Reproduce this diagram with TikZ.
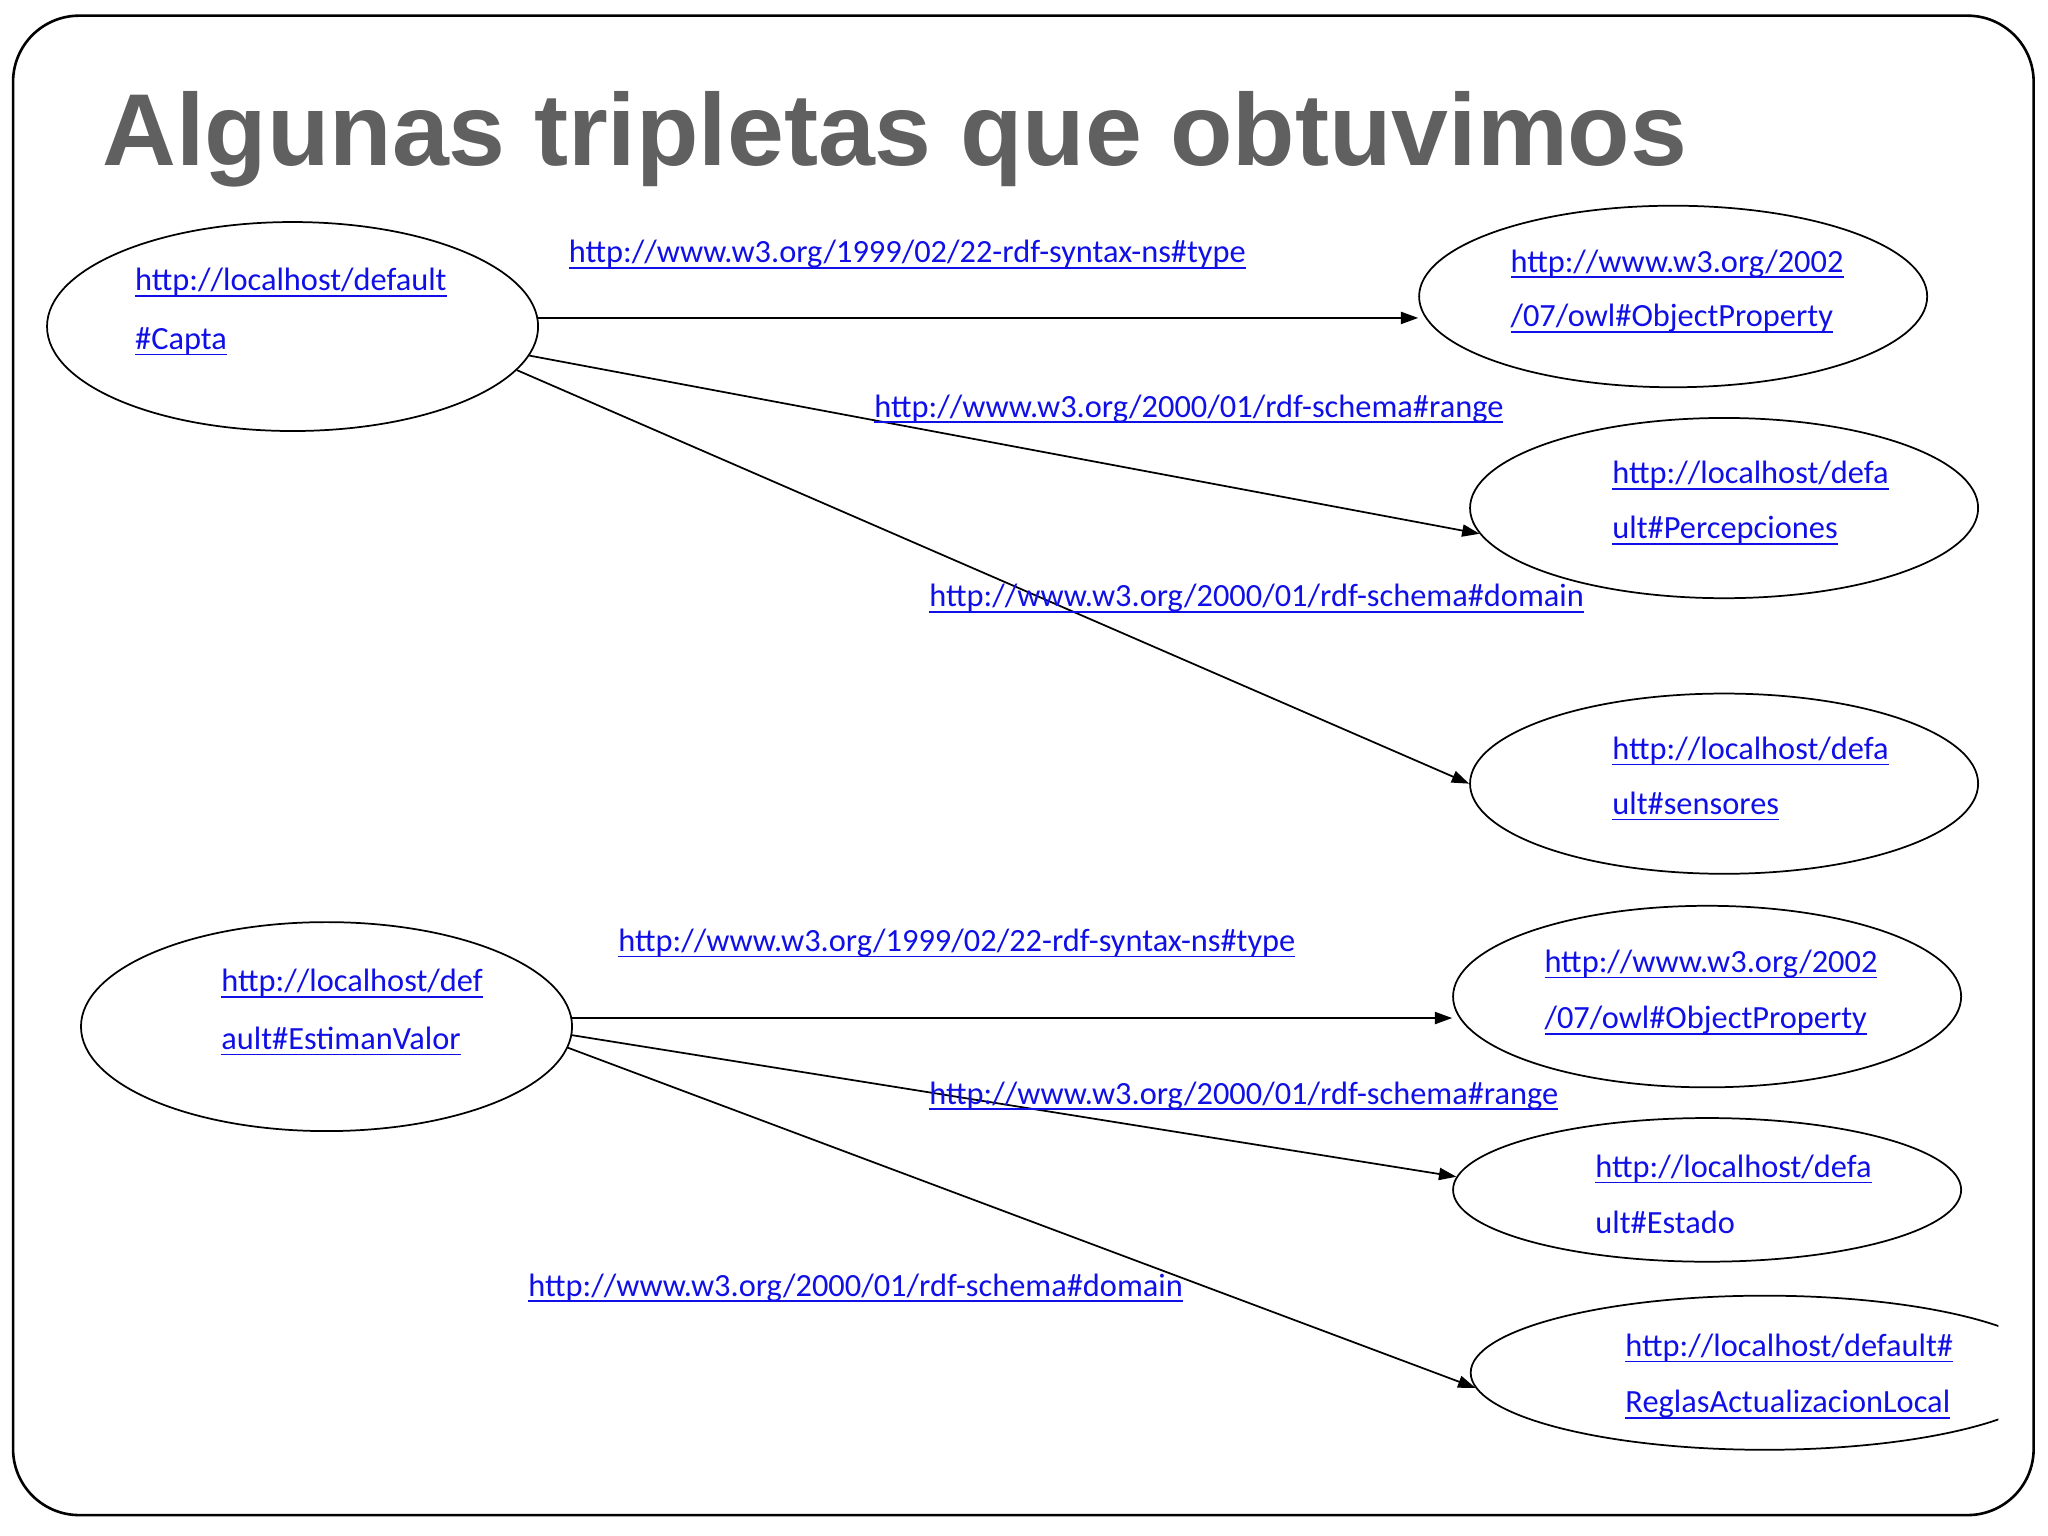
\documentclass[tikz,border=0pt]{standalone}
\usepackage{fontspec}
\setmainfont{Carlito}
\newfontfamily\titulofont{Liberation Sans}
\usetikzlibrary{arrows.meta,shapes.geometric}

\definecolor{gristitulo}{RGB}{96,96,96}
\definecolor{azulenlace}{RGB}{16,16,230}
\newcommand{\enlace}[1]{\setbox0\hbox{#1}\rlap{\rule[-0.19em]{\wd0}{0.055em}}\box0}

\tikzset{every picture/.style={line width=0.75pt}}
\tikzset{
  recurso/.style={draw, ellipse, line width=1pt, inner sep=0pt},
  texto/.style={anchor=west, inner sep=0pt, text=azulenlace, font=\fontsize{18.6}{22}\selectfont, text height=0.75em, text depth=0.25em},
  flecha/.style={line width=1pt, -{Triangle[length=10pt,width=7pt]}},
}

\begin{document}
\begin{tikzpicture}[x=0.75pt,y=0.75pt,yscale=-1,xscale=1]
\useasboundingbox (0,0) rectangle (1568,1176);

%Frame
\draw [line width=1.5pt, rounded corners=38pt] (10,12) rectangle (1557,1160);

% Title
\node [anchor=base west, inner sep=0pt, text=gristitulo, font=\titulofont\bfseries\fontsize{58.7}{70}\selectfont] (titulo) at (78,127) {Algunas tripletas que obtuvimos};

%Shapes: Ellipses (upper triples)
\node [recurso, minimum width=282pt, minimum height=120pt] (capta) at (224,250) {};
\node [recurso, minimum width=291.75pt, minimum height=104.25pt] (objprop1) at (1281,227) {};
\node [recurso, minimum width=291.75pt, minimum height=103.5pt] (percep) at (1320,389) {};
\node [recurso, minimum width=291.75pt, minimum height=103.5pt] (sensores) at (1320,600) {};

%Shapes: Ellipses (lower triples)
\node [recurso, minimum width=282pt, minimum height=120pt] (estiman) at (250,786) {};
\node [recurso, minimum width=291.75pt, minimum height=104.25pt] (objprop2) at (1307,763) {};
\node [recurso, minimum width=291.75pt, minimum height=82.5pt] (estado) at (1307,911) {};
\begin{scope}
\clip (0,0) rectangle (1530,1176);
\node [recurso, minimum width=337.5pt, minimum height=88.5pt] (reglas) at (1351,1051) {};
\end{scope}

%Straight Lines
\draw [flecha] (capta.2) -- (capta.2 -| objprop1.west);
\draw [flecha] (capta.-7) -- (percep.186);
\draw [flecha] (capta.-11) -- (sensores.west);
\draw [flecha] (estiman.2) -- (estiman.2 -| objprop2.west);
\draw [flecha] (estiman.-2) -- (estado.177);
\draw [flecha] (estiman.-5) -- (reglas.183);

% Text Node
\node [texto] (capta-a) at (103,219) {\enlace{http://localhost/default}};
\node [texto] (capta-b) at (103,264) {\enlace{\#Capta}};
% Text Node
\node [texto] (objprop1-a) at (1156,205) {\enlace{http://www.w3.org/2002}};
\node [texto] (objprop1-b) at (1156,247) {\enlace{/07/owl\#ObjectProperty}};
% Text Node
\node [texto] (percep-a) at (1234,367) {\enlace{http://localhost/defa}};
\node [texto] (percep-b) at (1234,409) {\enlace{ult\#Percepciones}};
% Text Node
\node [texto] (sensores-a) at (1234,578) {\enlace{http://localhost/defa}};
\node [texto] (sensores-b) at (1234,620) {\enlace{ult\#sensores}};
% Text Node
\node [texto] (estiman-a) at (169,756) {\enlace{http://localhost/def}};
\node [texto] (estiman-b) at (169,800) {\enlace{ault\#EstimanValor}};
% Text Node
\node [texto] (objprop2-a) at (1182,741) {\enlace{http://www.w3.org/2002}};
\node [texto] (objprop2-b) at (1182,784) {\enlace{/07/owl\#ObjectProperty}};
% Text Node
\node [texto] (estado-a) at (1221,898) {\enlace{http://localhost/defa}};
\node [texto] (estado-b) at (1221,941) {ult\#Estado};
% Text Node
\node [texto] (reglas-a) at (1244,1035) {\enlace{http://localhost/default\#}};
\node [texto] (reglas-b) at (1244,1078) {\enlace{ReglasActualizacionLocal}};

% Text Node: predicates
\node [texto] (type1) at (435,198) {\enlace{http://www.w3.org/1999/02/22-rdf-syntax-ns\#type}};
\node [texto] (range1) at (669,316) {\enlace{http://www.w3.org/2000/01/rdf-schema\#range}};
\node [texto] (domain1) at (711,461) {\enlace{http://www.w3.org/2000/01/rdf-schema\#domain}};
\node [texto] (type2) at (473,725) {\enlace{http://www.w3.org/1999/02/22-rdf-syntax-ns\#type}};
\node [texto] (range2) at (711,842) {\enlace{http://www.w3.org/2000/01/rdf-schema\#range}};
\node [texto] (domain2) at (404,989) {\enlace{http://www.w3.org/2000/01/rdf-schema\#domain}};

\end{tikzpicture}
\end{document}
